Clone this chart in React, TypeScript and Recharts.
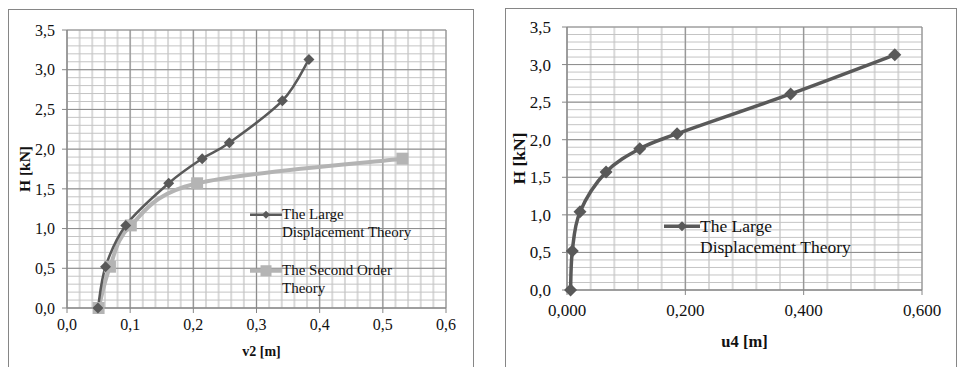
import React from "react";
import { CartesianGrid, Label, Legend, Line, LineChart, XAxis, YAxis } from "recharts";

// H [kN] load steps
const hLarge = [0, 0.52, 1.04, 1.57, 1.88, 2.08, 2.61, 3.13];
const hSecond = [0, 0.52, 1.04, 1.57, 1.88];

// v2 [m] for both theories, u4 [m] for the large displacement theory
const v2Large = [0.049, 0.061, 0.093, 0.161, 0.214, 0.257, 0.341, 0.383];
const v2Second = [0.05, 0.068, 0.101, 0.206, 0.531];
const u4Large = [0.006, 0.009, 0.022, 0.066, 0.123, 0.186, 0.378, 0.554];

const seriesNames = ["The Large Displacement Theory", "The Second Order Theory"];

const hTicks = [0, 0.5, 1, 1.5, 2, 2.5, 3, 3.5];
const v2Ticks = [0, 0.1, 0.2, 0.3, 0.4, 0.5, 0.6];
const u4Ticks = [0, 0.2, 0.4, 0.6];

const FONT = "'Liberation Serif', 'DejaVu Serif', Times, serif";
const DARK = "#595959";
const LIGHT = "#b4b4b4";
const AXIS = "#868686";
const TEXT = "#111";

const steps = (max: number, step: number) =>
  Array.from({ length: Math.round(max / step) + 1 }, (_, i) => +(i * step).toFixed(4));

const hMinor = steps(3.5, 0.1);
const v2Minor = steps(0.6, 0.02);
const u4Minor = steps(0.6, 0.04);

const toPoints = (xs: number[], hs: number[]) => xs.map((x, i) => ({ x, h: hs[i] }));

const largeV2 = toPoints(v2Large, hLarge);
const secondV2 = toPoints(v2Second, hSecond);
const largeU4 = toPoints(u4Large, hLarge);

const comma = (digits: number) => (v: number) => v.toFixed(digits).replace(".", ",");

// Excel-style smoothed line (Catmull-Rom as cubic Beziers, 1/6 tangents)
function smoothCurve(context: any) {
  let pts: [number, number][] = [];
  return {
    areaStart() {},
    areaEnd() {},
    lineStart() {
      pts = [];
    },
    point(x: number, y: number) {
      pts.push([+x, +y]);
    },
    lineEnd() {
      if (!pts.length) return;
      context.moveTo(pts[0][0], pts[0][1]);
      for (let i = 0; i < pts.length - 1; i++) {
        const p0 = pts[i - 1] || pts[i];
        const p1 = pts[i];
        const p2 = pts[i + 1];
        const p3 = pts[i + 2] || p2;
        context.bezierCurveTo(
          p1[0] + (p2[0] - p0[0]) / 6,
          p1[1] + (p2[1] - p0[1]) / 6,
          p2[0] - (p3[0] - p1[0]) / 6,
          p2[1] - (p3[1] - p1[1]) / 6,
          p2[0],
          p2[1]
        );
      }
    },
  };
}

const diamondDot = (size: number, fill: string) => (props: any) => {
  const { cx, cy, index } = props;
  if (cx == null || cy == null) return <g key={`d-${index}`} />;
  const r = size / 2;
  return (
    <path
      key={`d-${index}`}
      d={`M${cx},${cy - r}L${cx + r},${cy}L${cx},${cy + r}L${cx - r},${cy}Z`}
      fill={fill}
    />
  );
};

const squareDot = (size: number, fill: string) => (props: any) => {
  const { cx, cy, index } = props;
  if (cx == null || cy == null) return <g key={`s-${index}`} />;
  return (
    <rect key={`s-${index}`} x={cx - size / 2} y={cy - size / 2} width={size} height={size} fill={fill} />
  );
};

interface LegendItem {
  name: string;
  color: string;
  lineWidth: number;
  marker: "diamond" | "square";
  markerSize: number;
}

function LegendBlock({
  items,
  fontSize,
  lineHeight,
  sampleWidth,
  textWidth,
  gap,
}: {
  items: LegendItem[];
  fontSize: number;
  lineHeight: number;
  sampleWidth: number;
  textWidth: number;
  gap: number;
}) {
  return (
    <div style={{ fontFamily: FONT, fontSize, lineHeight: `${lineHeight}px`, color: TEXT }}>
      {items.map((it, i) => {
        const c = sampleWidth / 2;
        const m = lineHeight / 2;
        const r = it.markerSize / 2;
        return (
          <div key={it.name} style={{ display: "flex", alignItems: "flex-start", marginTop: i ? gap : 0 }}>
            <svg width={sampleWidth} height={lineHeight} style={{ flex: "none", display: "block" }}>
              <line x1={0} x2={sampleWidth} y1={m} y2={m} stroke={it.color} strokeWidth={it.lineWidth} />
              {it.marker === "diamond" ? (
                <path d={`M${c},${m - r}L${c + r},${m}L${c},${m + r}L${c - r},${m}Z`} fill={it.color} />
              ) : (
                <rect x={c - r} y={m - r} width={it.markerSize} height={it.markerSize} fill={it.color} />
              )}
            </svg>
            <div style={{ width: textWidth }}>{it.name}</div>
          </div>
        );
      })}
    </div>
  );
}

const tickStyle = (fontSize: number) => ({ fill: TEXT, fontSize, fontFamily: FONT });

function LeftChart() {
  const items: LegendItem[] = [
    { name: seriesNames[0], color: DARK, lineWidth: 2.5, marker: "diamond", markerSize: 8 },
    { name: seriesNames[1], color: LIGHT, lineWidth: 4, marker: "square", markerSize: 11 },
  ];
  return (
    <LineChart width={480} height={367} margin={{ top: 30, right: 34, left: 17, bottom: 11 }}>
      <CartesianGrid horizontal={false} verticalValues={v2Minor} stroke="#d9d9d9" strokeWidth={2} />
      <CartesianGrid vertical={false} horizontalValues={hMinor} stroke="#c4c4c4" strokeWidth={1} />
      <CartesianGrid stroke="#8c8c8c" strokeWidth={1} />
      <XAxis
        dataKey="x"
        type="number"
        domain={[0, 0.6]}
        ticks={v2Ticks}
        interval={0}
        tickFormatter={comma(1)}
        stroke={AXIS}
        tickSize={5}
        tickMargin={6}
        height={48}
        tick={tickStyle(16)}
      >
        <Label
          value="v2 [m]"
          position="insideBottom"
          offset={0}
          dx={5}
          style={{ fontFamily: FONT, fontWeight: 700, fontSize: 14, fill: TEXT }}
        />
      </XAxis>
      <YAxis
        dataKey="h"
        type="number"
        domain={[0, 3.5]}
        ticks={hTicks}
        interval={0}
        tickFormatter={comma(1)}
        stroke={AXIS}
        tickSize={5}
        tickMargin={7}
        width={50}
        tick={tickStyle(16)}
      >
        <Label
          value="H [kN]"
          angle={-90}
          position="insideLeft"
          offset={7}
          style={{ fontFamily: FONT, fontWeight: 700, fontSize: 15.5, fill: TEXT, textAnchor: "middle" }}
        />
      </YAxis>
      <Line
        data={secondV2}
        dataKey="h"
        name={seriesNames[1]}
        type={smoothCurve as any}
        stroke={LIGHT}
        strokeWidth={4}
        dot={squareDot(12, LIGHT)}
        activeDot={false}
        isAnimationActive={false}
      />
      <Line
        data={largeV2}
        dataKey="h"
        name={seriesNames[0]}
        type={smoothCurve as any}
        stroke={DARK}
        strokeWidth={2.5}
        dot={diamondDot(11, DARK)}
        activeDot={false}
        isAnimationActive={false}
      />
      <Legend
        layout="vertical"
        align="center"
        verticalAlign="middle"
        wrapperStyle={{ left: 250, top: 206, width: 200 }}
        content={() => (
          <LegendBlock items={items} fontSize={15} lineHeight={17.5} sampleWidth={32} textWidth={140} gap={21} />
        )}
      />
    </LineChart>
  );
}

function RightChart() {
  const items: LegendItem[] = [
    { name: seriesNames[0], color: DARK, lineWidth: 3.5, marker: "diamond", markerSize: 10 },
  ];
  return (
    <LineChart width={480} height={367} margin={{ top: 27, right: 40, left: 25, bottom: 20 }}>
      <CartesianGrid horizontal={false} verticalValues={u4Minor} stroke="#d9d9d9" strokeWidth={2} />
      <CartesianGrid vertical={false} horizontalValues={hMinor} stroke="#c4c4c4" strokeWidth={1} />
      <CartesianGrid stroke="#8c8c8c" strokeWidth={1} />
      <XAxis
        dataKey="x"
        type="number"
        domain={[0, 0.6]}
        ticks={u4Ticks}
        interval={0}
        tickFormatter={comma(3)}
        stroke={AXIS}
        tickSize={5}
        tickMargin={9}
        height={57}
        tick={tickStyle(17)}
      >
        <Label
          value="u4 [m]"
          position="insideBottom"
          offset={0}
          style={{ fontFamily: FONT, fontWeight: 700, fontSize: 16.5, fill: TEXT }}
        />
      </XAxis>
      <YAxis
        dataKey="h"
        type="number"
        domain={[0, 3.5]}
        ticks={hTicks}
        interval={0}
        tickFormatter={comma(1)}
        stroke={AXIS}
        tickSize={5}
        tickMargin={11}
        width={60}
        tick={tickStyle(17)}
      >
        <Label
          value="H [kN]"
          angle={-90}
          position="insideLeft"
          offset={12}
          style={{ fontFamily: FONT, fontWeight: 700, fontSize: 17.5, fill: TEXT, textAnchor: "middle" }}
        />
      </YAxis>
      <Line
        data={largeU4}
        dataKey="h"
        name={seriesNames[0]}
        type={smoothCurve as any}
        stroke={DARK}
        strokeWidth={3.5}
        dot={diamondDot(13, DARK)}
        activeDot={false}
        isAnimationActive={false}
      />
      <Legend
        layout="vertical"
        align="center"
        verticalAlign="middle"
        wrapperStyle={{ left: 182, top: 216, width: 220 }}
        content={() => (
          <LegendBlock items={items} fontSize={17.5} lineHeight={20.6} sampleWidth={36} textWidth={165} gap={0} />
        )}
      />
    </LineChart>
  );
}

export default function App() {
  return (
    <div
      style={{
        position: "absolute",
        left: 0,
        top: 0,
        width: 962,
        height: 367,
        overflow: "hidden",
        background: "#fff",
      }}
    >
      <div
        style={{
          position: "absolute",
          left: 8,
          top: 9,
          width: 464,
          height: 420,
          border: `1px solid ${AXIS}`,
        }}
      />
      <div
        style={{
          position: "absolute",
          left: 505,
          top: 8,
          width: 450,
          height: 420,
          border: `1px solid ${AXIS}`,
        }}
      />
      <div style={{ position: "absolute", left: 0, top: 0 }}>
        <LeftChart />
      </div>
      <div style={{ position: "absolute", left: 482, top: 0 }}>
        <RightChart />
      </div>
    </div>
  );
}
